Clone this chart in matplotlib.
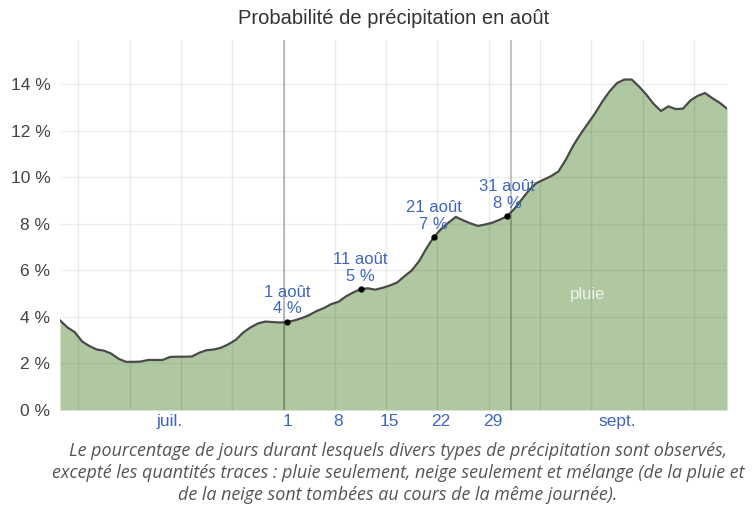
import numpy as np
import matplotlib
matplotlib.use("Agg")
import matplotlib.pyplot as plt

# daily probability of precipitation (%), 1 July .. 30 September
PROB = [3.85, 3.55, 3.35, 2.95, 2.75, 2.60, 2.55, 2.42, 2.20, 2.07,
        2.07, 2.08, 2.15, 2.15, 2.15, 2.28, 2.29, 2.29, 2.30, 2.46,
        2.57, 2.60, 2.68, 2.83, 3.02, 3.33, 3.55, 3.72, 3.80, 3.78,
        3.76, 3.78, 3.85, 3.95, 4.08, 4.25, 4.38, 4.55, 4.65, 4.88,
        5.05, 5.19, 5.23, 5.17, 5.25, 5.35, 5.48, 5.75, 6.00, 6.40,
        6.95, 7.43, 7.78, 8.05, 8.30, 8.15, 8.02, 7.91, 7.97, 8.05,
        8.18, 8.32, 8.65, 9.05, 9.45, 9.75, 9.90, 10.05, 10.25, 10.75,
        11.35, 11.85, 12.30, 12.75, 13.26, 13.70, 14.05, 14.20, 14.20, 13.90,
        13.55, 13.15, 12.85, 13.05, 12.93, 12.95, 13.30, 13.50, 13.62, 13.40,
        13.20, 12.95]

XTICK_DAYS = [15, 31, 38, 45, 52, 59, 76]
XTICK_LABELS = ["juil.", "1", "8", "15", "22", "29", "sept."]
YTICKS = [0, 2, 4, 6, 8, 10, 12, 14]
WEEK_GRID = [2.5, 9.5, 16.5, 23.5, 30.5, 37.5, 44.5, 51.5, 58.5, 65.5, 72.5, 79.5, 86.5]
MONTH_BOUNDS = [30.5, 61.5]          # start and end of August
ANNOT_DAYS = [31, 41, 51, 61]
ANNOT_LABELS = ["1 août", "11 août", "21 août", "31 août"]

TITLE = "Probabilité de précipitation en août"
CAPTION = ("Le pourcentage de jours durant lesquels divers types de précipitation sont observés,\n"
           "excepté les quantités traces : pluie seulement, neige seulement et mélange (de la pluie et\n"
           "de la neige sont tombées au cours de la même journée).")

BLUE = "#3f66bf"
FILL = "#afc8a1"
LINE = "#4a4a4a"

plt.rcParams["font.family"] = ["Liberation Sans", "DejaVu Sans"]

x = np.arange(len(PROB))
y = np.array(PROB)

fig = plt.figure(figsize=(7.54, 5.12), dpi=100)
ax = fig.add_axes([0.0796, 0.1992, 0.8846, 0.7227])

ax.fill_between(x, 0, y, color=FILL, lw=0, zorder=1)
ax.plot(x, y, color=LINE, lw=1.6, zorder=4)

# grid drawn over the fill, semi-transparent
for g in WEEK_GRID:
    ax.axvline(g, color="black", alpha=0.08, lw=1, zorder=2)
for t in YTICKS[1:]:
    ax.axhline(t, color="black", alpha=0.06, lw=1, zorder=2)
for b in MONTH_BOUNDS:
    ax.axvline(b, color="black", alpha=0.28, lw=1.2, zorder=3)

for d, lbl in zip(ANNOT_DAYS, ANNOT_LABELS):
    ax.plot(d, y[d], "o", color="black", ms=3.5, zorder=5)
    ax.annotate(f"{lbl}\n{round(y[d]):.0f} %", (d, y[d]), xytext=(0, 4),
                textcoords="offset points", ha="center", va="bottom",
                color=BLUE, fontsize=12, linespacing=1.15, zorder=6)

ax.text(72, 4.95, "pluie", color="#eef3ea", fontsize=12, ha="center", va="center", zorder=6)

ax.set_xlim(0, 91)
ax.set_ylim(0, 15.9)
ax.set_yticks(YTICKS)
ax.set_yticklabels([f"{t} %" for t in YTICKS], color="#444444", fontsize=12.5)
ax.set_xticks(XTICK_DAYS)
ax.set_xticklabels(XTICK_LABELS, color=BLUE, fontsize=12.5)
ax.tick_params(length=0, axis="y", pad=7)
ax.tick_params(length=0, axis="x", pad=3)
for s in ax.spines.values():
    s.set_visible(False)

fig.text(0.5215, 0.963, TITLE, ha="center", va="center", fontsize=14.5, color="#333333")
fig.text(0.528, 0.076, CAPTION, ha="center", va="center", fontsize=12.9, color="#555555",
         style="italic", family=["Open Sans", "DejaVu Sans"], linespacing=1.29)

fig.savefig("out.png", dpi=100)
